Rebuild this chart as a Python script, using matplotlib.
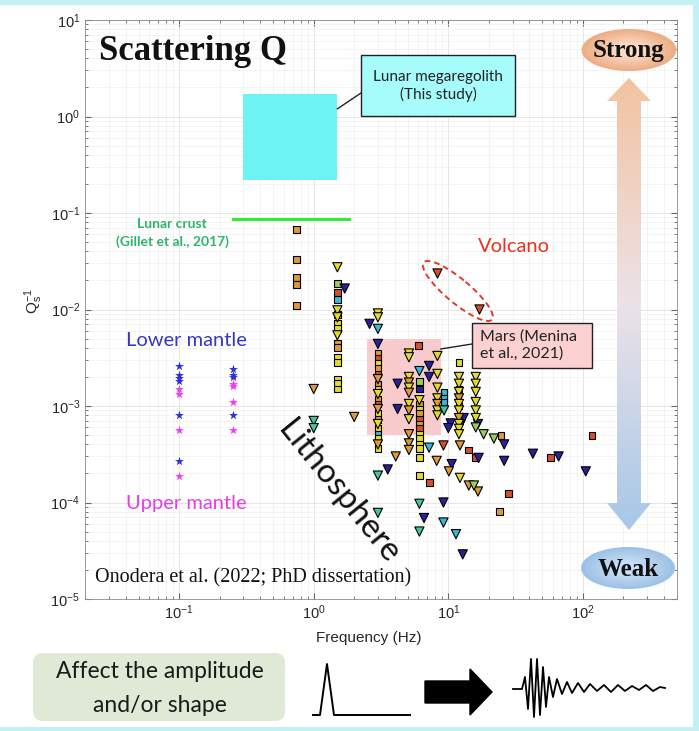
import matplotlib.pyplot as plt
import numpy as np
from matplotlib.colors import LinearSegmentedColormap
from matplotlib.patches import Ellipse, FancyArrow, FancyBboxPatch, Polygon, Rectangle

plt.rcParams["font.family"] = ["Liberation Sans", "DejaVu Sans"]
plt.rcParams["mathtext.default"] = "regular"

CALIBRI = ["Lato", "DejaVu Sans"]
TIMES = ["Liberation Serif", "DejaVu Serif"]

# mantle estimates (stars)
lower_mantle_freq = [0.1, 0.1, 0.1, 0.1, 0.1, 0.1, 0.25, 0.25, 0.25, 0.25]
lower_mantle_q = [2.6e-3, 2.1e-3, 1.95e-3, 1.8e-3, 8.1e-4, 2.7e-4, 2.4e-3, 2.1e-3, 2.0e-3, 8.1e-4]
upper_mantle_freq = [0.1, 0.1, 0.1, 0.1, 0.25, 0.25, 0.25, 0.25]
upper_mantle_q = [1.5e-3, 1.33e-3, 5.6e-4, 1.9e-4, 1.7e-3, 1.6e-3, 1.1e-3, 5.6e-4]

# lithosphere compilation: (frequency Hz, Qs^-1, colour key)
square_obs = [
    (0.75, 0.068, "o"), (0.75, 0.033, "o"), (0.75, 0.0215, "o"), (0.75, 0.018, "o"), (0.75, 0.011, "o"),
    (1.5, 0.0187, "g"), (1.5, 0.015, "r"), (1.5, 0.0127, "c"), (1.5, 0.0089, "y"), (1.5, 0.0071, "y"),
    (1.5, 0.0063, "y"), (1.5, 0.0045, "o"), (1.5, 0.004, "o"), (1.5, 0.0032, "y"), (1.5, 0.0028, "y"),
    (1.5, 0.0019, "y"), (1.5, 0.0017, "y"), (1.5, 0.0015, "y"),
    (3.0, 3.48e-3, "o"), (3.0, 3.1e-3, "r"), (3.0, 2.74e-3, "y"), (3.0, 2.43e-3, "o"), (3.0, 2.15e-3, "r"),
    (3.0, 1.69e-3, "o"), (3.0, 1.5e-3, "y"), (3.0, 1.18e-3, "o"), (3.0, 1.05e-3, "r"), (3.0, 8.3e-4, "y"),
    (3.0, 7.3e-4, "o"), (3.0, 5.8e-4, "y"), (3.0, 5.1e-4, "c"), (3.0, 4.6e-4, "y"), (3.0, 3.6e-4, "y"),
    (6.0, 4.2e-3, "r"),
    (6.1, 1.8e-3, "g"), (6.1, 1.5e-3, "b"), (6.1, 1.05e-3, "o"), (6.1, 9.3e-4, "y"), (6.1, 8.3e-4, "o"),
    (6.1, 7.3e-4, "r"), (6.1, 6.5e-4, "o"), (6.1, 5.8e-4, "r"), (6.1, 5.1e-4, "y"), (6.1, 4.6e-4, "y"),
    (6.1, 4.0e-4, "y"), (6.1, 3.6e-4, "y"), (6.1, 2.9e-4, "y"), (6.1, 1.9e-4, "y"),
    (9.3, 1.37e-3, "c"), (9.3, 1.2e-3, "c"), (9.3, 1.1e-3, "c"),
    (12.0, 2.8e-3, "y"), (12.0, 1.5e-3, "y"), (12.0, 1.0e-3, "y"),
    (7.2, 1.6e-4, "r"), (14.2, 3.5e-4, "r"), (16.0, 2.9e-4, "r"), (24.6, 4.9e-4, "o"),
    (57.7, 2.9e-4, "r"), (117.0, 4.9e-4, "r"), (28.0, 1.25e-4, "r"), (24.0, 8.0e-5, "o"),
]
triangle_obs = [
    (1.5, 0.0274, "y"), (1.7, 0.0165, "b"), (1.5, 0.0098, "y"), (1.5, 0.0083, "y"), (1.5, 0.0054, "y"),
    (1.0, 1.5e-3, "o"), (1.0, 7.0e-4, "t"), (1.0, 5.9e-4, "t"), (2.0, 7.7e-4, "o"),
    (3.0, 9.1e-3, "y"), (3.0, 8.3e-3, "y"), (2.6, 7.1e-3, "b"), (3.0, 6.3e-3, "c"), (3.0, 4.4e-3, "b"),
    (3.0, 1.9e-3, "o"), (3.0, 1.33e-3, "y"), (3.0, 9.3e-4, "o"), (3.0, 6.5e-4, "y"), (3.0, 4.0e-4, "o"),
    (3.0, 1.9e-4, "t"), (3.0, 7.8e-5, "t"), (3.55, 2.2e-4, "b"), (4.07, 3.0e-4, "o"),
    (4.2, 1.7e-3, "b"), (4.2, 9.3e-4, "b"),
    (5.1, 3.5e-3, "y"), (5.1, 3.2e-3, "y"), (5.1, 2.0e-3, "y"), (5.1, 1.75e-3, "o"), (5.1, 1.55e-3, "y"),
    (5.1, 1.37e-3, "o"), (5.1, 1.05e-3, "y"), (5.1, 9.0e-4, "o"), (5.1, 7.3e-4, "y"), (5.1, 5.1e-4, "o"),
    (5.1, 4.1e-4, "o"), (5.1, 3.5e-4, "o"),
    (6.1, 2.3e-3, "c"), (6.1, 1.15e-3, "y"), (6.1, 9.7e-5, "t"), (6.1, 5.0e-5, "t"), (6.6, 6.9e-5, "b"),
    (7.2, 2.6e-3, "b"), (7.2, 2.0e-3, "b"), (7.2, 3.7e-4, "c"), (8.2, 2.7e-4, "o"),
    (8.3, 3.3e-3, "y"), (8.3, 2.15e-3, "y"), (8.3, 1.55e-3, "y"), (8.3, 1.2e-3, "y"), (8.3, 1.05e-3, "o"),
    (8.3, 9.0e-4, "y"), (8.3, 8.0e-4, "y"),
    (9.2, 3.9e-4, "r"), (9.2, 1.0e-4, "b"), (9.2, 6.2e-5, "c"), (9.3, 9.0e-4, "t"),
    (10.4, 6.6e-4, "b"), (10.0, 5.9e-4, "b"), (12.4, 6.5e-4, "b"), (13.0, 7.5e-4, "b"), (16.6, 6.5e-4, "b"),
    (10.6, 2.5e-4, "b"), (10.1, 2.1e-4, "o"), (12.2, 3.9e-4, "o"), (12.2, 1.8e-4, "y"),
    (12.0, 2.0e-3, "y"), (12.0, 1.7e-3, "y"), (12.0, 1.4e-3, "y"), (12.0, 1.2e-3, "o"), (12.0, 1.05e-3, "y"),
    (12.0, 9.0e-4, "y"), (12.0, 7.5e-4, "o"), (12.0, 6.5e-4, "y"), (12.0, 5.8e-4, "y"), (12.0, 5.1e-4, "y"),
    (16.0, 2.0e-3, "y"), (16.0, 1.7e-3, "y"), (16.0, 1.4e-3, "y"), (16.0, 1.1e-3, "y"), (16.0, 9.0e-4, "y"),
    (16.0, 7.5e-4, "y"), (16.0, 6.0e-4, "g"), (16.8, 2.9e-4, "b"),
    (14.2, 1.5e-4, "o"), (16.6, 1.3e-4, "o"), (15.5, 1.5e-4, "g"), (11.4, 4.7e-5, "c"), (12.8, 2.9e-5, "b"),
    (18.3, 5.1e-4, "g"), (21.8, 4.6e-4, "g"),
    (26.0, 4.0e-4, "b"), (26.0, 2.7e-4, "b"), (42.5, 3.2e-4, "b"), (66.0, 3.0e-4, "b"), (105.0, 2.1e-4, "b"),
]
volcano_freq = [8.2, 16.9]
volcano_q = [0.0237, 0.0102]

# ranges
megaregolith_freq = [0.3, 1.5]
megaregolith_q = [0.22, 1.7]
mars_freq = [2.5, 8.8]
mars_q = [5.0e-4, 5.0e-3]
crust_freq = [0.25, 1.82]
crust_q = 0.087

# little waveform icon: sample positions (px) and amplitude (px)
wiggle_t = [513, 522, 525, 528, 531, 534, 537, 540, 543, 546, 549, 553, 557, 562, 567,
            572, 578, 584, 590, 597, 604, 611, 618, 625, 632, 639, 646, 653, 660, 665]
wiggle_amp = [0, 0, 12, -20, 30, -28, 30, -26, 22, -18, 12, -8, 10, -5, 7,
              -4, 6, -3, 5, -2, 4, -3, 4, -2, 3, -1, 4, -2, 2, 1]

colors = {"y": "#e2db2e", "o": "#dd9a38", "r": "#d5502c", "b": "#2b1f9e",
          "c": "#3ab7dc", "t": "#45c69c", "g": "#9acd5a"}

fig = plt.figure(figsize=(6.99, 7.31), dpi=100)
ax = fig.add_axes([85 / 699, 1 - 599 / 731, 592 / 699, 579 / 731])
ax.set_xscale("log")
ax.set_yscale("log")
ax.set_xlim(0.02, 500)
ax.set_ylim(1e-5, 10)
ax.set_axisbelow(True)
ax.grid(True, which="major", color="#e2e2e2", lw=0.6)
ax.grid(True, which="minor", color="#f0f0f0", lw=0.5)
ax.tick_params(which="both", direction="in", top=True, right=True, color="#666666",
               labelcolor="#262626", labelsize=10.5)
ax.tick_params(which="major", length=4)
ax.tick_params(which="minor", length=2)
for sp in ax.spines.values():
    sp.set_color("#8a8a8a")
    sp.set_linewidth(0.6)
ax.set_xlabel("Frequency (Hz)", fontsize=11, color="#262626")
ax.xaxis.set_label_coords(0.48, -0.055)
ax.set_ylabel("Q$_s^{-1}$", fontsize=11, color="#262626")
ax.yaxis.set_label_coords(-0.068, 0.515)

ax.add_patch(Rectangle((megaregolith_freq[0], megaregolith_q[0]),
                       megaregolith_freq[1] - megaregolith_freq[0],
                       megaregolith_q[1] - megaregolith_q[0],
                       facecolor="#6ef3f3", edgecolor="none", zorder=1))
ax.add_patch(Rectangle((mars_freq[0], mars_q[0]), mars_freq[1] - mars_freq[0],
                       mars_q[1] - mars_q[0], facecolor="#f7c3c3", alpha=0.85,
                       edgecolor="none", zorder=1))
ax.plot(crust_freq, [crust_q, crust_q], color="#35ea35", lw=2.2, zorder=2)

ax.scatter(lower_mantle_freq, lower_mantle_q, marker="*", s=45, color="#2d2de0", lw=0, zorder=3)
ax.scatter(upper_mantle_freq, upper_mantle_q, marker="*", s=45, color="#f03cf0", lw=0, zorder=3)

sq_f, sq_q, sq_c = zip(*square_obs)
tri_f, tri_q, tri_c = zip(*triangle_obs)
ax.scatter(sq_f, sq_q, marker="s", s=24, c=[colors[k] for k in sq_c],
           edgecolors="black", linewidths=0.8, zorder=4)
ax.scatter(tri_f, tri_q, marker="v", s=44, c=[colors[k] for k in tri_c],
           edgecolors="black", linewidths=0.8, zorder=5)
ax.scatter(volcano_freq, volcano_q, marker="v", s=44, c=colors["r"],
           edgecolors="black", linewidths=0.8, zorder=5)

# overlay in pixel coordinates for the annotations
deco = fig.add_axes([0, 0, 1, 1], zorder=3)
deco.patch.set_alpha(0)
deco.axis("off")


def set_px_limits():
    deco.set_xlim(0, 699)
    deco.set_ylim(731, 0)


set_px_limits()


def to_px(f, q):
    return deco.transData.inverted().transform(ax.transData.transform((f, q)))


# frame
for x0, y0, w, h in [(0, 0, 699, 5), (0, 727, 699, 4), (693, 0, 6, 731)]:
    deco.add_patch(Rectangle((x0, y0), w, h, facecolor="#c2f0f4", edgecolor="none"))

deco.text(99, 52, "Scattering Q", family=TIMES, fontweight="bold", fontsize=25,
          va="center", ha="left", color="#111111")

# megaregolith label
deco.add_patch(Rectangle((361, 55), 154, 61, facecolor="#a6fbfb", edgecolor="#222222", lw=1))
deco.text(438, 86, "Lunar megaregolith\n(This study)", family=CALIBRI, fontsize=11,
          ha="center", va="center", linespacing=1.3, color="#222222")
p1 = to_px(megaregolith_freq[1], 1.2)
deco.plot([361, p1[0]], [93, p1[1]], color="#222222", lw=1)

deco.text(172, 233, "Lunar crust\n(Gillet et al., 2017)", family=CALIBRI, fontsize=10,
          fontweight="bold", ha="center", va="center", color="#2fb46a", linespacing=1.6)

deco.text(514, 247, "Volcano", family=CALIBRI, fontsize=14.5, ha="center", va="center",
          color="#e8321e")
v1 = to_px(volcano_freq[0], volcano_q[0])
v2 = to_px(volcano_freq[1], volcano_q[1])
vc = (v1 + v2) / 2
vang = np.degrees(np.arctan2(v2[1] - v1[1], v2[0] - v1[0]))
deco.add_patch(Ellipse(vc, np.hypot(*(v2 - v1)) + 34, 24, angle=vang, fill=False,
                       edgecolor="#e03a2a", lw=1.4, ls=(0, (3, 2))))

# Mars label
deco.add_patch(Rectangle((472, 323), 120, 45, facecolor="#fbd0d0", edgecolor="#222222", lw=1))
deco.text(480, 345, "Mars (Menina\net al., 2021)", family=CALIBRI, fontsize=11.5,
          ha="left", va="center", linespacing=1.3, color="#222222")
p2 = to_px(mars_freq[1], 3.9e-3)
deco.plot([472, p2[0]], [344, p2[1]], color="#222222", lw=1)

deco.text(186, 340, "Lower mantle", family=CALIBRI, fontsize=14.5, ha="center", va="center",
          color="#3636c8")
deco.text(186, 503, "Upper mantle", family=CALIBRI, fontsize=14.5, ha="center", va="center",
          color="#e83ce8")
deco.text(338, 492, "Lithosphere", family=CALIBRI, fontsize=24, ha="center", va="center",
          rotation=-51, rotation_mode="anchor", color="#111111")
deco.text(95, 578, "Onodera et al. (2022; PhD dissertation)", family=TIMES, fontsize=14.5,
          ha="left", va="center", color="#111111")

# strong / weak arrow
arrow_xy = [(629, 78), (651, 101), (641, 101), (641, 503), (651, 503), (629, 530),
            (607, 503), (617, 503), (617, 101), (607, 101)]
arrow_poly = Polygon(arrow_xy, closed=True, facecolor="none", edgecolor="none",
                     transform=deco.transData)
deco.add_patch(arrow_poly)
grad_cmap = LinearSegmentedColormap.from_list("sw", ["#f3c3a0", "#ece2e8", "#a6c7e8"])
grad = deco.imshow(np.linspace(0, 1, 256)[:, None], extent=(600, 660, 531, 77),
                   cmap=grad_cmap, aspect="auto", zorder=2)
grad.set_clip_path(arrow_poly)
set_px_limits()

# soft-edged ovals: stack of shrinking ellipses, lighter towards the centre
for k, frac in enumerate(np.linspace(1, 0.3, 8)):
    mix = k / 7
    strong_c = np.array([0.93, 0.68, 0.53]) * (1 - mix) + np.array([0.98, 0.86, 0.78]) * mix
    weak_c = np.array([0.62, 0.76, 0.90]) * (1 - mix) + np.array([0.78, 0.87, 0.96]) * mix
    deco.add_patch(Ellipse((629, 50), 95 * frac, 42 * frac, facecolor=strong_c,
                           edgecolor="none", zorder=3))
    deco.add_patch(Ellipse((628, 568), 94 * frac, 42 * frac, facecolor=weak_c,
                           edgecolor="none", zorder=3))
deco.text(629, 51, "Strong", family=TIMES, fontweight="bold", fontsize=18, ha="center",
          va="center", zorder=4, color="#111111")
deco.text(628, 569, "Weak", family=TIMES, fontweight="bold", fontsize=18, ha="center",
          va="center", zorder=4, color="#111111")

# bottom strip
deco.add_patch(FancyBboxPatch((33, 653), 252, 68, boxstyle="round,pad=0,rounding_size=10",
                              facecolor="#dfe9d6", edgecolor="none"))
deco.text(160, 671, "Affect the amplitude", family=CALIBRI, fontsize=16.5,
          ha="center", va="center", color="#1a1a1a")
deco.text(160, 705, "and/or shape", family=CALIBRI, fontsize=16.5,
          ha="center", va="center", color="#1a1a1a")
deco.plot([313, 320, 327, 334, 410], [715, 715, 664, 715, 715], color="black", lw=1.4)
deco.add_patch(FancyArrow(425, 692, 45, 0, width=22, head_width=46, head_length=22,
                          color="black"))
deco.plot(wiggle_t, 689 - np.array(wiggle_amp), color="black", lw=1.3)
set_px_limits()

fig.savefig("out.png", dpi=100)
